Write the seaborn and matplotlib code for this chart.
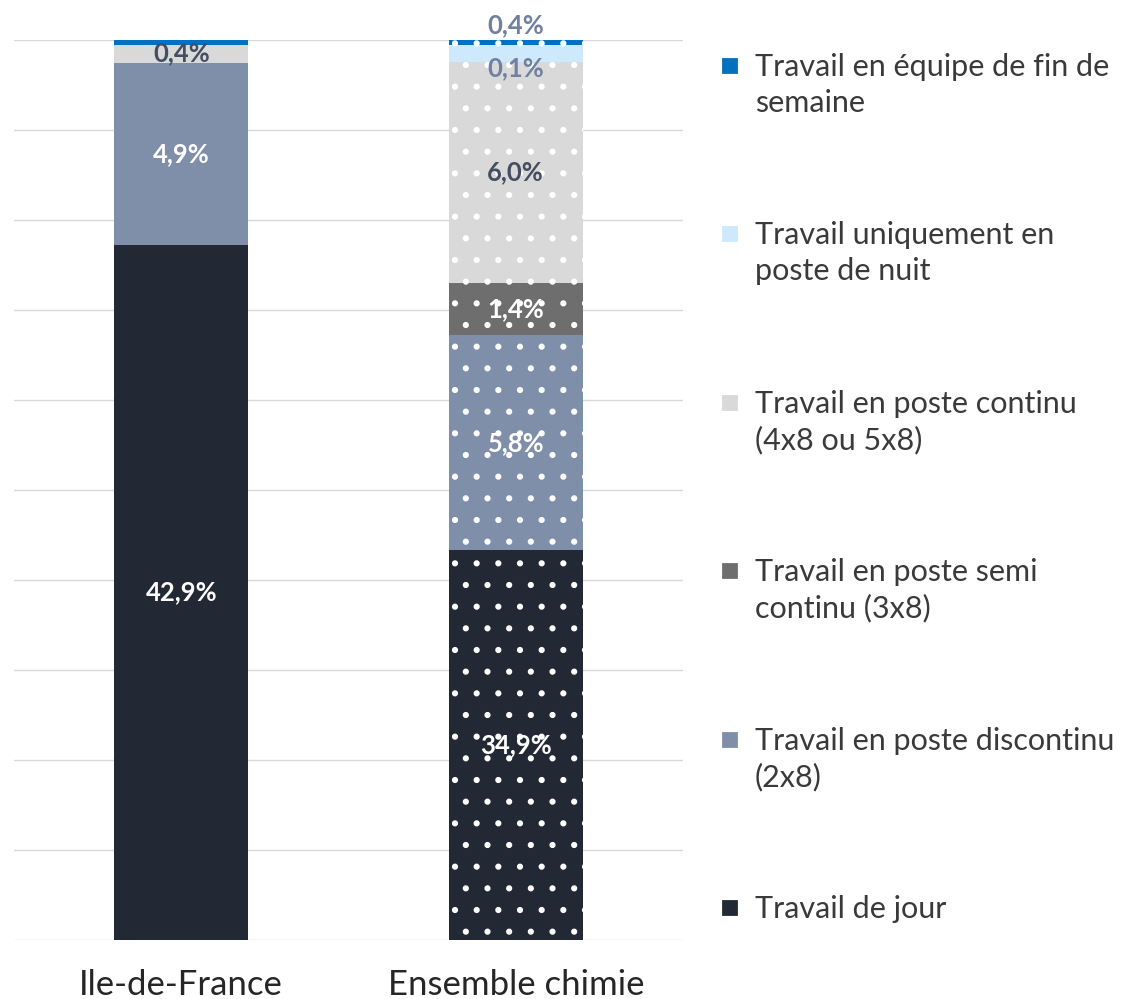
import matplotlib
matplotlib.use("Agg")
import matplotlib.pyplot as plt
import seaborn as sns
from matplotlib.patches import Rectangle

regions = ["Ile-de-France", "Ensemble chimie"]

# stacking order, bottom to top
categories = [
    "Travail de jour",
    "Travail en poste discontinu\n(2x8)",
    "Travail en poste semi\ncontinu (3x8)",
    "Travail en poste continu\n(4x8 ou 5x8)",
    "Travail uniquement en\nposte de nuit",
    "Travail en équipe de fin de\nsemaine",
]
colors = ["#222834", "#7f8faa", "#6e6e6e", "#d9d9d9", "#cde9fb", "#0070c0"]

# segment heights (share of the bar, %)
idf_heights = [77.2, 20.3, 0.0, 2.0, 0.0, 0.5]
chimie_heights = [43.3, 23.9, 5.8, 24.6, 1.9, 0.5]

# printed labels
idf_labels = ["42,9%", "4,9%", "", "0,4%", "", ""]
chimie_labels = ["34,9%", "5,8%", "1,4%", "6,0%", "0,1%", "0,4%"]
label_colors = ["white", "white", "white", "#444e60", "#6f80a0", "#6f80a0"]

sns.set_theme(style="white")
plt.rcParams["font.family"] = ["Lato", "DejaVu Sans"]
plt.rcParams["hatch.linewidth"] = 1.0

W, H, DPI = 1121, 999, 130
f = 100 / DPI  # sizes below are tuned in 100-dpi points
fig = plt.figure(figsize=(W / DPI, H / DPI), dpi=DPI)
ax = fig.add_axes([14 / W, 59 / H, 669 / W, 900 / H])
ax.set_axisbelow(True)

bottom = [0.0, 0.0]
for i, cat in enumerate(categories):
    vals = [idf_heights[i], chimie_heights[i]]
    sns.barplot(x=regions, y=vals, bottom=list(bottom), color=colors[i],
                width=0.4, saturation=1, linewidth=0, errorbar=None, ax=ax)
    # dotted pattern on the second bar
    p = ax.patches[-1]
    p.set_hatch(".")
    p.set_edgecolor("white")
    p.set_linewidth(0)

    for j, (lab, v) in enumerate(zip([idf_labels[i], chimie_labels[i]], vals)):
        if not lab:
            continue
        if v < 1.0:
            y, va = bottom[j] + v + 0.3, "bottom"
        elif j == 1 and i == 4:
            y, va = bottom[j] - 0.7, "center"
        else:
            y, va = bottom[j] + v / 2, "center"
        ax.text(j, y, lab, ha="center", va=va, fontsize=18.5 * f,
                fontweight="bold", color=label_colors[i])
    bottom = [bottom[0] + vals[0], bottom[1] + vals[1]]

ax.set_xlim(-0.5, 1.5)
ax.set_ylim(0, 100)
ax.set_yticks(range(0, 101, 10))
ax.set_yticklabels([])
ax.yaxis.grid(True, color="#d9d9d9", linewidth=1 * f)
ax.tick_params(axis="both", length=0)
ax.tick_params(axis="x", pad=21 * f, labelsize=25 * f, labelcolor="#262626")
ax.set_xlabel("")
for s in ax.spines.values():
    s.set_visible(False)

# legend, top entry first
leg_y0, leg_step = 66, 168.4
for k, i in enumerate(reversed(range(len(categories)))):
    yc = leg_y0 + k * leg_step
    fig.patches.append(Rectangle((723 / W, 1 - (yc + 7) / H), 14 / W, 14 / H,
                                 transform=fig.transFigure, color=colors[i]))
    fig.text(755 / W, 1 - (yc - 13) / H, categories[i], va="top", ha="left",
             fontsize=22 * f, color="#3a3a3a", linespacing=1.33)

fig.savefig("out.png", dpi=DPI)
